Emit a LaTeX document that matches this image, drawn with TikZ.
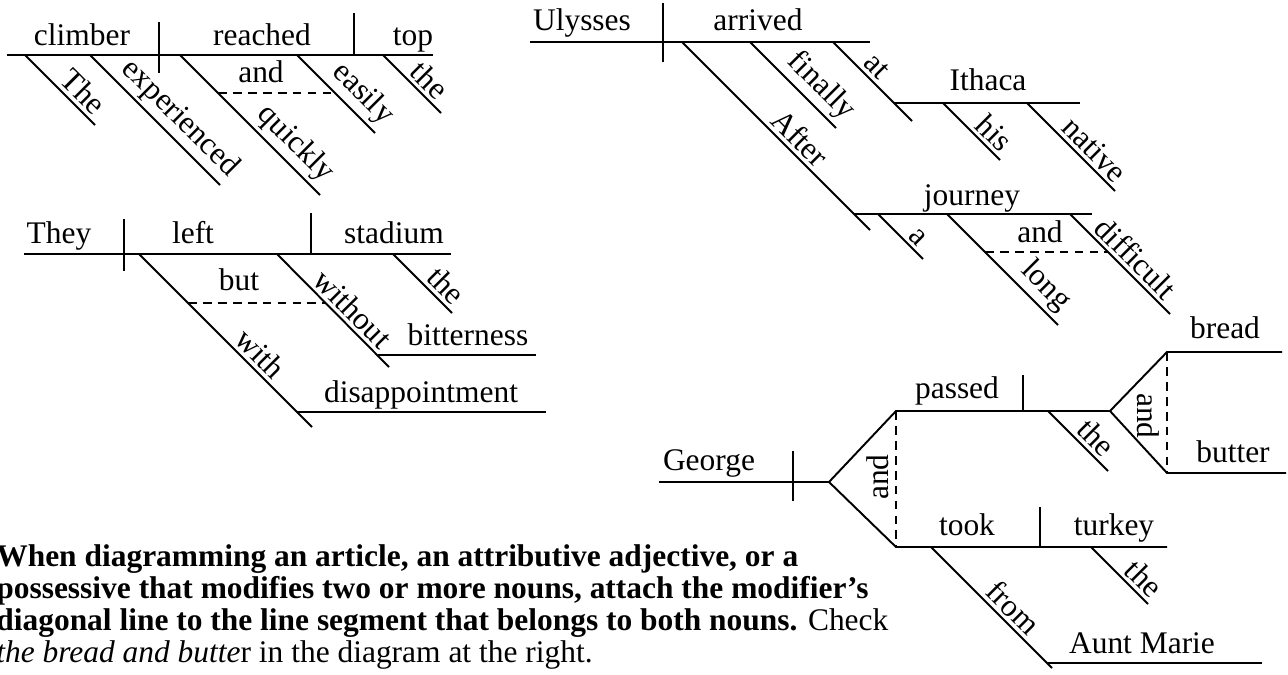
\documentclass[tikz,border=0pt]{standalone}
\usepackage{fontspec}
\setmainfont{Liberation Serif}
\newcommand{\wordsize}{\fontsize{17.9}{18.2}\selectfont}
\tikzstyle{word} = [font=\wordsize, anchor=base, inner sep=0pt]
\tikzstyle{slant} = [font=\wordsize, sloped, above, inner sep=2pt]
\tikzstyle{upright} = [font=\wordsize, inner sep=0pt]
\tikzstyle{rule} = [line width=1.1pt]
\tikzstyle{link} = [line width=1.1pt, dash pattern=on 5pt off 3.5pt]
\tikzstyle{note} = [font=\wordsize, anchor=base west, inner sep=0pt]

\begin{document}
\begin{tikzpicture}[x=0.02cm, y=-0.02cm]
    \useasboundingbox (0,0) rectangle (1288,674);

    % The experienced climber reached the top quickly and easily
    \coordinate (climber_l) at (7,55);
    \coordinate (top_r) at (433,55);
    \coordinate (sv_a_top) at (159,22);
    \coordinate (sv_a_bot) at (159,73);
    \coordinate (vo_a_top) at (354,13);
    \coordinate (vo_a_bot) at (354,55);
    \coordinate (the_a_s) at (25,55);
    \coordinate (the_a_e) at (95,125);
    \coordinate (exp_s) at (90,55);
    \coordinate (exp_e) at (220,185);
    \coordinate (quick_s) at (180,55);
    \coordinate (quick_e) at (320,195);
    \coordinate (easy_s) at (297,55);
    \coordinate (easy_e) at (375,133);
    \coordinate (the_b_s) at (383,55);
    \coordinate (the_b_e) at (441,113);
    \coordinate (and_a_l) at (218,93);
    \coordinate (and_a_r) at (335,93);

    \node (climber) [word] at (82,45) {climber};
    \node (reached) [word] at (262,45) {reached};
    \node (top) [word] at (413,45) {top};
    \node (and_a) [word] at (261,82) {and};

    \draw [rule] (climber_l) -- (top_r);
    \draw [rule] (sv_a_top) -- (sv_a_bot);
    \draw [rule] (vo_a_top) -- (vo_a_bot);
    \draw [rule] (the_a_s) -- (the_a_e) node (the_a) [slant, pos=0.68] {The};
    \draw [rule] (exp_s) -- (exp_e) node (experienced) [slant, pos=0.59] {experienced};
    \draw [rule] (quick_s) -- (quick_e) node (quickly) [slant, pos=0.73] {quickly};
    \draw [rule] (easy_s) -- (easy_e) node (easily) [slant, pos=0.67] {easily};
    \draw [rule] (the_b_s) -- (the_b_e) node (the_b) [slant, pos=0.62] {the};
    \draw [link] (and_a_l) -- (and_a_r);

    % They left the stadium with disappointment but without bitterness
    \coordinate (they_l) at (24,254);
    \coordinate (stadium_r) at (451,254);
    \coordinate (sv_b_top) at (124,219);
    \coordinate (sv_b_bot) at (124,271);
    \coordinate (vo_b_top) at (311,213);
    \coordinate (vo_b_bot) at (311,254);
    \coordinate (with_s) at (139,254);
    \coordinate (with_e) at (312,427);
    \coordinate (without_s) at (277,254);
    \coordinate (without_e) at (389,367);
    \coordinate (the_c_s) at (393,254);
    \coordinate (the_c_e) at (452,313);
    \coordinate (bitter_l) at (378,355);
    \coordinate (bitter_r) at (536,355);
    \coordinate (disap_l) at (297,412);
    \coordinate (disap_r) at (546,412);
    \coordinate (but_l) at (188,303);
    \coordinate (but_r) at (326,303);

    \node (they) [word] at (59,243) {They};
    \node (left) [word] at (193,243) {left};
    \node (stadium) [word] at (394,243) {stadium};
    \node (but) [word] at (239,290) {but};
    \node (bitterness) [word] at (468,345) {bitterness};
    \node (disappointment) [word] at (421,402) {disappointment};

    \draw [rule] (they_l) -- (stadium_r);
    \draw [rule] (sv_b_top) -- (sv_b_bot);
    \draw [rule] (vo_b_top) -- (vo_b_bot);
    \draw [rule] (with_s) -- (with_e) node (with) [slant, pos=0.64] {with};
    \draw [rule] (without_s) -- (without_e) node (without) [slant, pos=0.58] {without};
    \draw [rule] (the_c_s) -- (the_c_e) node (the_c) [slant, pos=0.72] {the};
    \draw [rule] (bitter_l) -- (bitter_r);
    \draw [rule] (disap_l) -- (disap_r);
    \draw [link] (but_l) -- (but_r);

    % After a long and difficult journey, Ulysses finally arrived at his native Ithaca
    \coordinate (ulysses_l) at (530,42);
    \coordinate (arrived_r) at (870,42);
    \coordinate (sv_c_top) at (663,3);
    \coordinate (sv_c_bot) at (663,62);
    \coordinate (after_s) at (682,42);
    \coordinate (after_e) at (870,230);
    \coordinate (finally_s) at (750,42);
    \coordinate (finally_e) at (836,128);
    \coordinate (at_s) at (833,42);
    \coordinate (at_e) at (912,121);
    \coordinate (ithaca_l) at (894,103);
    \coordinate (ithaca_r) at (1080,103);
    \coordinate (his_s) at (943,103);
    \coordinate (his_e) at (1000,160);
    \coordinate (native_s) at (1027,103);
    \coordinate (native_e) at (1115,191);
    \coordinate (journey_l) at (854,214);
    \coordinate (journey_r) at (1092,214);
    \coordinate (a_s) at (878,214);
    \coordinate (a_e) at (923,259);
    \coordinate (long_s) at (947,214);
    \coordinate (long_e) at (1058,325);
    \coordinate (diff_s) at (1070,214);
    \coordinate (diff_e) at (1170,314);
    \coordinate (and_c_l) at (985,252);
    \coordinate (and_c_r) at (1108,252);

    \node (ulysses) [word] at (582,30) {Ulysses};
    \node (arrived) [word] at (758,30) {arrived};
    \node (ithaca) [word] at (988,90) {Ithaca};
    \node (journey) [word] at (972,205) {journey};
    \node (and_c) [word] at (1040,242) {and};

    \draw [rule] (ulysses_l) -- (arrived_r);
    \draw [rule] (sv_c_top) -- (sv_c_bot);
    \draw [rule] (after_s) -- (after_e) node (after) [slant, pos=0.57] {After};
    \draw [rule] (finally_s) -- (finally_e) node (finally) [slant, pos=0.67] {finally};
    \draw [rule] (at_s) -- (at_e) node (at) [slant, pos=0.43] {at};
    \draw [rule] (ithaca_l) -- (ithaca_r);
    \draw [rule] (his_s) -- (his_e) node (his) [slant, pos=0.71] {his};
    \draw [rule] (native_s) -- (native_e) node (native) [slant, pos=0.65] {native};
    \draw [rule] (journey_l) -- (journey_r);
    \draw [rule] (a_s) -- (a_e) node (a) [slant, pos=0.70] {a};
    \draw [rule] (long_s) -- (long_e) node (long) [slant, pos=0.77] {long};
    \draw [rule] (diff_s) -- (diff_e) node (difficult) [slant, pos=0.55] {difficult};
    \draw [link] (and_c_l) -- (and_c_r);

    % George passed the bread and butter and took the turkey from Aunt Marie
    \coordinate (george_l) at (659,482);
    \coordinate (fork_l) at (829,482);
    \coordinate (sv_d_top) at (793,451);
    \coordinate (sv_d_bot) at (793,501);
    \coordinate (passed_l) at (896,411);
    \coordinate (fork_r) at (1110,411);
    \coordinate (vo_d_top) at (1023,375);
    \coordinate (vo_d_bot) at (1023,411);
    \coordinate (took_l) at (896,547);
    \coordinate (turkey_r) at (1167,547);
    \coordinate (vo_e_top) at (1040,507);
    \coordinate (vo_e_bot) at (1040,547);
    \coordinate (bread_l) at (1167,352);
    \coordinate (bread_r) at (1282,352);
    \coordinate (butter_l) at (1167,473);
    \coordinate (butter_r) at (1286,473);
    \coordinate (the_d_s) at (1048,411);
    \coordinate (the_d_e) at (1108,471);
    \coordinate (the_e_s) at (1091,547);
    \coordinate (the_e_e) at (1148,604);
    \coordinate (from_s) at (931,547);
    \coordinate (from_e) at (1052,668);
    \coordinate (marie_l) at (1047,663);
    \coordinate (marie_r) at (1262,663);

    \node (george) [word] at (709,470) {George};
    \node (passed) [word] at (957,398) {passed};
    \node (took) [word] at (967,535) {took};
    \node (turkey) [word] at (1114,535) {turkey};
    \node (bread) [word] at (1225,338) {bread};
    \node (butter) [word] at (1233,462) {butter};
    \node (aunt_marie) [word] at (1142,653) {Aunt Marie};
    \node (and_d) [upright, rotate=90] at (878,477) {and};
    \node (and_e) [upright, rotate=-90] at (1148,416) {and};

    \draw [rule] (george_l) -- (fork_l);
    \draw [rule] (sv_d_top) -- (sv_d_bot);
    \draw [rule] (fork_l) -- (passed_l) -- (fork_r);
    \draw [rule] (vo_d_top) -- (vo_d_bot);
    \draw [rule] (fork_l) -- (took_l) -- (turkey_r);
    \draw [rule] (vo_e_top) -- (vo_e_bot);
    \draw [link] (passed_l) -- (took_l);
    \draw [rule] (fork_r) -- (bread_l) -- (bread_r);
    \draw [rule] (fork_r) -- (butter_l) -- (butter_r);
    \draw [link] (bread_l) -- (butter_l);
    \draw [rule] (the_d_s) -- (the_d_e) node (the_d) [slant, pos=0.62] {the};
    \draw [rule] (the_e_s) -- (the_e_e) node (the_e) [slant, pos=0.74] {the};
    \draw [rule] (from_s) -- (from_e) node (from) [slant, pos=0.59] {from};
    \draw [rule] (marie_l) -- (marie_r);

    \node (note_a) [note] at (-4,566) {\bfseries When diagramming an article, an attributive adjective, or a};
    \node (note_b) [note] at (-4,598) {\bfseries possessive that modifies two or more nouns, attach the modifier's};
    \node (note_c) [note] at (-4,630) {\textbf{diagonal line to the line segment that belongs to both nouns.} Check};
    \node (note_d) [note] at (-4,662) {\textit{the bread and butte}r in the diagram at the right.};
\end{tikzpicture}
\end{document}
